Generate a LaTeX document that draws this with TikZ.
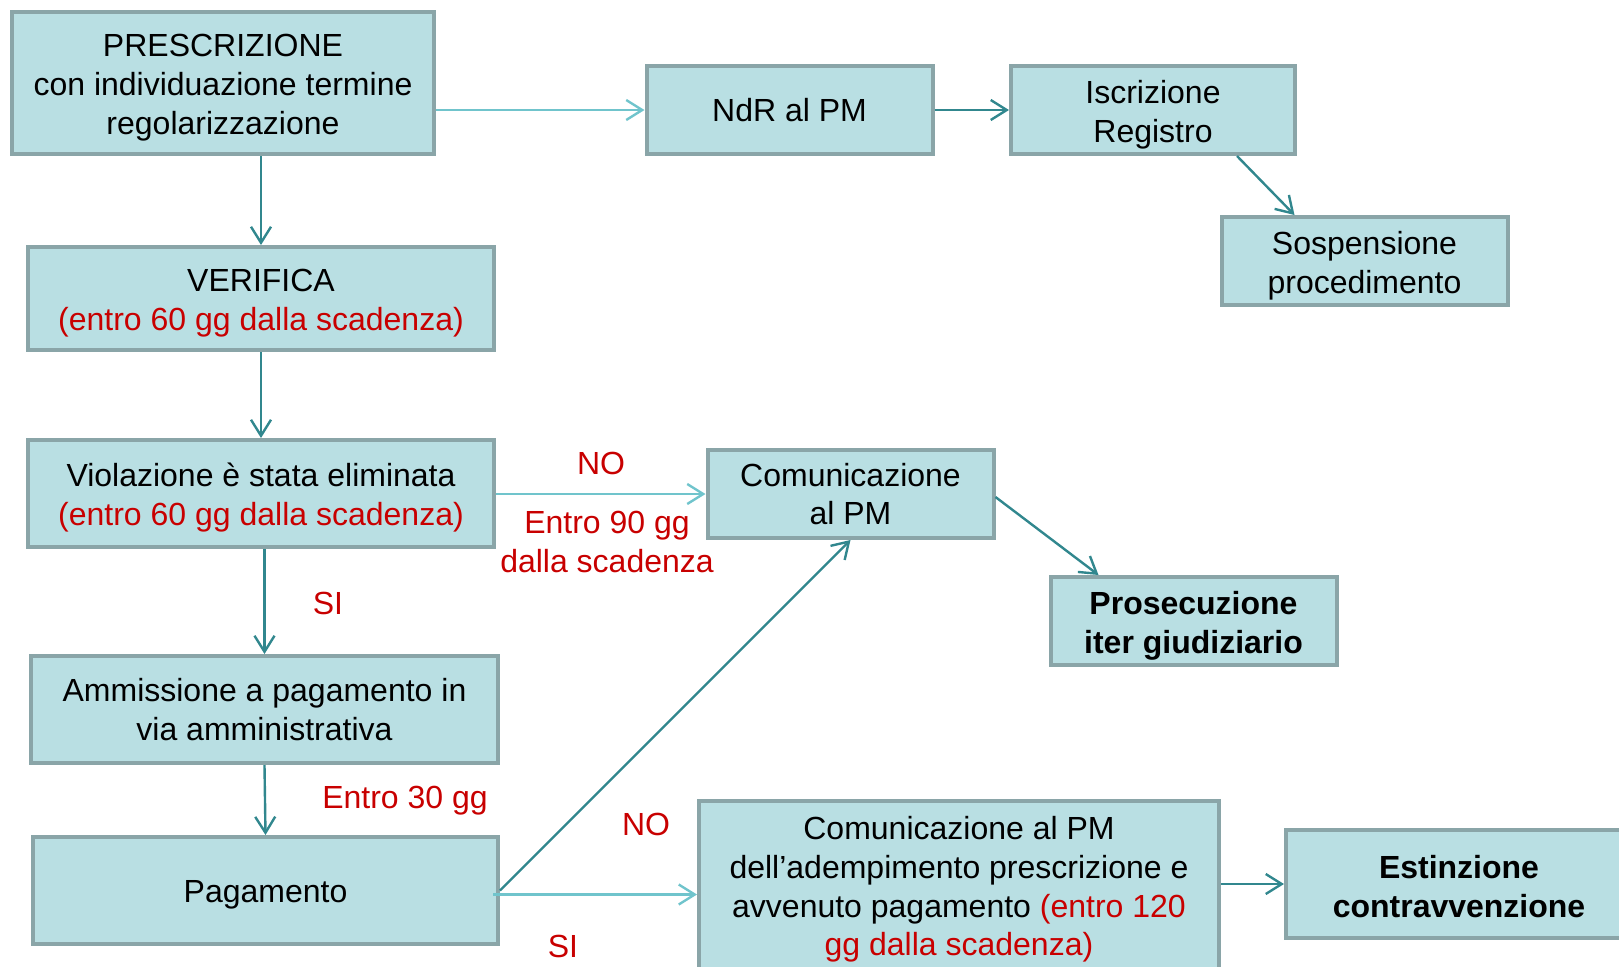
\documentclass[tikz,border=0pt]{standalone}
\usepackage{fontspec}
\setmainfont{Liberation Sans}
\usetikzlibrary{arrows.meta,calc}
\definecolor{boxfill}{RGB}{185,223,227}
\definecolor{boxline}{RGB}{138,165,168}
\definecolor{darkarr}{RGB}{49,135,142}
\definecolor{lightarr}{RGB}{112,196,204}
\definecolor{redtxt}{RGB}{200,0,0}
\newcommand{\topstrut}[1][16pt]{\rule{0pt}{#1}}
\tikzset{
  box/.style={fill=boxfill,draw=boxline,line width=2pt,align=center,inner sep=0pt,
    font=\fontsize{16}{19.4}\selectfont},
  lbl/.style={text=redtxt,align=center,inner sep=0pt,font=\fontsize{16}{19.4}\selectfont},
  darr/.style={draw=darkarr,line width=1.2pt,-{Straight Barb[length=8pt,width=10pt,line width=1.2pt]}},
  larr/.style={draw=lightarr,line width=1.2pt,-{Straight Barb[length=8pt,width=10pt,line width=1.2pt]}}
}
\begin{document}
\begin{tikzpicture}[x=0.5pt,y=-0.5pt]
\useasboundingbox (0,0) rectangle (1619,966);
\node[box,minimum width=211pt,minimum height=71pt] (pres) at (223,83)
  {\topstrut PRESCRIZIONE\\con individuazione termine\\regolarizzazione};
\node[box,minimum width=143pt,minimum height=44pt] (ndr) at (789.5,110) {NdR al PM};
\node[box,minimum width=142pt,minimum height=44pt] (iscr) at (1153,110) {\topstrut Iscrizione\\Registro};
\node[box,minimum width=143pt,minimum height=44pt] (sosp) at (1364.5,261) {\topstrut[16.5pt]Sospensione\\procedimento};
\node[box,minimum width=233pt,minimum height=51.5pt] (ver) at (261,298.5)
  {\topstrut VERIFICA\\\textcolor{redtxt}{(entro 60 gg dalla scadenza)}};
\node[box,minimum width=233pt,minimum height=53.5pt] (viol) at (261,493.5)
  {\topstrut Violazione è stata eliminata\\\textcolor{redtxt}{(entro 60 gg dalla scadenza)}};
\node[box,minimum width=143pt,minimum height=44pt] (com1) at (850.5,494) {Comunicazione\\al PM};
\node[box,minimum width=143pt,minimum height=44pt] (pros) at (1193.5,621)
  {\topstrut[16.5pt]\bfseries Prosecuzione\\\bfseries iter giudiziario};
\node[box,minimum width=233.5pt,minimum height=53.5pt] (amm) at (264.5,709.5)
  {Ammissione a pagamento in\\via amministrativa};
\node[box,minimum width=232.5pt,minimum height=53.5pt] (pag) at (265.5,890.5) {\topstrut[15pt]Pagamento};
\node[box,minimum width=260pt,minimum height=84pt] (com2) at (959,885)
  {\topstrut Comunicazione al PM\\dell’adempimento prescrizione e\\avvenuto pagamento \textcolor{redtxt}{(entro 120}\\\textcolor{redtxt}{gg dalla scadenza)}};
\node[box,minimum width=173pt,minimum height=54pt] (est) at (1459,884)
  {\topstrut[14pt]\bfseries Estinzione\\\bfseries contravvenzione};

\draw[larr] (ndr.west -| pres.east) -- (ndr.west);
\draw[darr] (ndr.east) -- (iscr.west);
\draw[darr] ($(iscr.south)+(84,0)$) -- ($(sosp.north)+(-70,0)$);
\draw[darr] (pres.south -| ver.north) -- (ver.north);
\draw[darr] (ver.south) -- (viol.north);
\draw[larr] (com1.west -| viol.east) -- (com1.west);
\draw[darr] (viol.south -| amm.north) -- (amm.north);
\draw[darr] (amm.south) -- (pag.north);
\draw[darr] ($(com1.east)+(0,3)$) -- ($(pros.north)+(-95,0)$);
\draw[darr] (pag.east) -- (com1.south);
\coordinate (p1) at ($(pag.east)+(-7,4)$);
\draw[larr] (p1) -- (p1 -| com2.west);
\draw[darr] (com2.east |- est.west) -- (est.west);

\node[lbl] (no1) at (601,463) {NO};
\node[lbl] (e90) at (607,542) {Entro 90 gg\\dalla scadenza};
\node[lbl] (si1) at (328,603) {SI};
\node[lbl] (e30) at (405,801) {Entro 30 gg};
\node[lbl] (no2) at (646,824) {NO};
\node[lbl] (si2) at (563,946) {SI};
\end{tikzpicture}
\end{document}
